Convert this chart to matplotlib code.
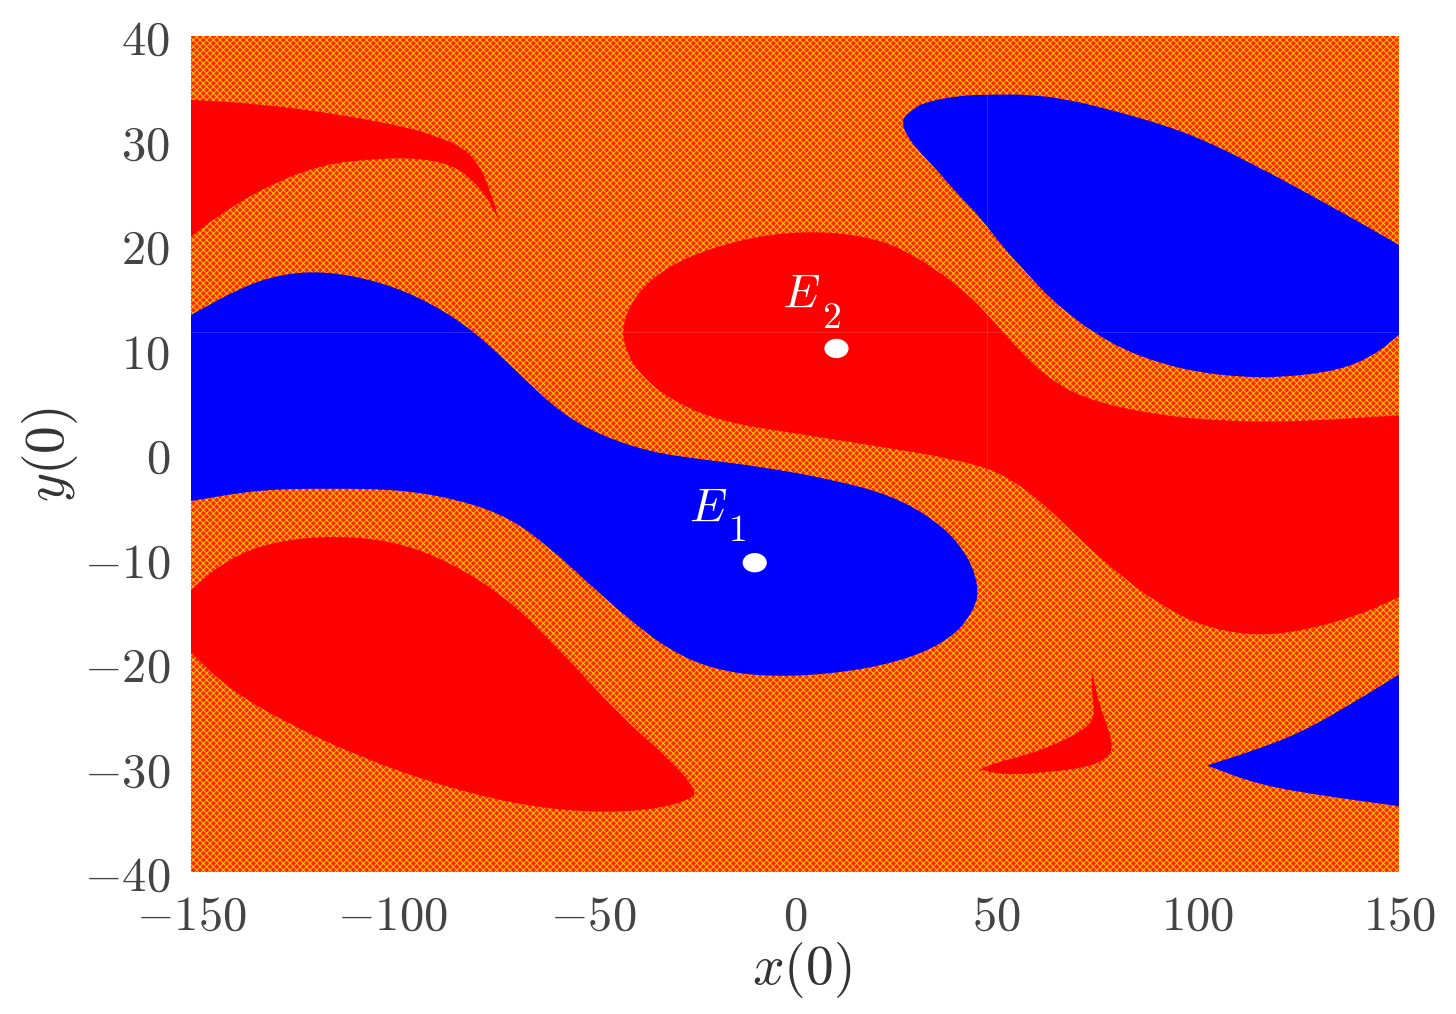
import matplotlib
matplotlib.use("Agg")
import matplotlib.pyplot as plt
from matplotlib.patches import Ellipse, PathPatch, Rectangle
from matplotlib.path import Path

plt.rcParams["mathtext.fontset"] = "cm"
plt.rcParams["hatch.linewidth"] = 0.7

# equilibria
eq_x = [-10, 10.3]
eq_y = [-10.4, 10.1]

x_ticks = [-150, -100, -50, 0, 50, 100, 150]
y_ticks = [-40, -30, -20, -10, 0, 10, 20, 30, 40]

# basin outlines, repeated points are sharp corners
blue_mid = [(-150, 13.3), (-150, 13.3), (-137.8, 15.9), (-127.9, 17.2), (-116.7, 17.5),
            (-103, 16.5), (-90.6, 14.5), (-79.5, 11.7), (-68.3, 7.6), (-58.4, 4.0),
            (-48.4, 1.8), (-36, 0.2), (-23.6, -0.5), (-8.7, -1.2), (8.7, -2.4),
            (23.6, -3.9), (34.8, -6.3), (42.2, -9.2), (45.7, -12.5), (44.7, -14.9),
            (38.5, -17.8), (26.1, -19.9), (8.7, -21.1), (-8.7, -21.3), (-21.1, -20.5),
            (-31, -18.8), (-41, -15.9), (-50.9, -12.5), (-60.8, -9), (-70.8, -6.1),
            (-83.2, -4.4), (-98.1, -3.4), (-115.5, -3.3), (-132.9, -3.4),
            (-150, -4.5), (-150, -4.5)]

red_mid = [(-43, 12.3), (-39.7, 15.2), (-32.3, 17.8), (-21.1, 19.7), (-6.2, 21.1),
           (8.7, 21.3), (21.1, 20.5), (28.5, 19.2), (35.2, 17.6), (42.7, 15.4),
           (48.4, 13.1), (54.1, 10.6), (60.1, 8.2), (66, 6.5), (72, 5.4), (80, 4.5),
           (90, 3.8), (100.5, 3.3), (120.4, 3),
           (150, 3.7), (150, 3.7), (150, -13.7), (150, -13.7), (140.3, -15.4),
           (125.4, -17), (113, -17.4), (100.6, -16.4), (90.6, -14.4), (80.7, -11.6),
           (70.8, -8.2), (60.8, -4.4), (50.9, -1.7), (38.5, -0.4), (21.1, 0.7),
           (1.2, 1.9), (-18.6, 3.1), (-31, 5.2), (-38.5, 7.6), (-42.2, 10)]

blue_top = [(26.1, 32), (29.8, 33.1), (31.8, 33.6), (40.2, 34.3), (49.2, 34.4), (58.3, 34.4),
            (68.3, 33.9), (80.7, 32.7), (91.4, 31.5), (100.6, 30.2), (113, 27.9),
            (132.8, 23.8), (150, 20), (150, 20),
            (150, 11.4), (150, 11.4), (144, 9.5), (135.3, 8), (120.4, 7.3), (110, 7.4),
            (100.6, 7.8), (91.4, 8.6), (81.4, 10), (74, 11.7), (70, 12.8), (63.3, 14.9),
            (57.6, 17.3), (51.6, 19.8), (45.9, 22.7), (41, 24.6), (35.2, 27.2), (28.5, 29.9)]

red_top = [(-150, 33.9), (-150, 33.9), (-132.9, 33.5), (-113, 32.5), (-95.6, 31.2),
           (-89.9, 30.5), (-82.5, 29.4), (-78.2, 27.5), (-75.8, 25.3), (-73.3, 22.2),
           (-73.3, 22.2), (-76.5, 24.6), (-80.7, 26.5), (-85.7, 27.7), (-93.1, 28.3),
           (-103, 28.3), (-118, 27.7),
           (-132.9, 25.3), (-144, 22.6), (-150, 20.8), (-150, 20.8)]

red_bottom = [(-150, -13), (-150, -13), (-142.8, -10.6), (-132.9, -8.7), (-118, -7.8),
              (-100.6, -8.2), (-85.7, -10.3), (-70.8, -14), (-58.4, -18.8), (-43.5, -25),
              (-31, -29.3), (-24.3, -32.2), (-26, -33.1), (-36, -34.1), (-50.9, -34.3),
              (-68.3, -33.6), (-88.2, -31.7), (-108, -29), (-125.4, -25.9),
              (-140.3, -22.6), (-150, -19), (-150, -19)]

red_small = [(73.7, -20.7), (73.7, -20.7), (75.7, -24.2), (77.7, -26.1), (79, -28.1),
             (77.5, -29.1), (72.5, -30), (61.6, -30.5), (51.6, -30.7), (45.9, -30.2),
             (45.9, -30.2), (49.2, -29.6), (57.6, -28.8), (65.8, -27.6), (72.5, -26.2),
             (74.5, -25), (73.7, -22.9)]

blue_corner = [(102.3, -29.8), (102.3, -29.8), (113, -28.5), (125.4, -26.7), (137.8, -24),
               (150, -21.1), (150, -21.1), (150, -33.7), (150, -33.7), (132.8, -32.8),
               (115.5, -31.7)]


def basin(points, color):
    """Closed smooth patch through the midpoints of the outline."""
    mids = [((points[i][0] + points[(i + 1) % len(points)][0]) / 2,
             (points[i][1] + points[(i + 1) % len(points)][1]) / 2)
            for i in range(len(points))]
    verts = [mids[-1]]
    codes = [Path.MOVETO]
    for p, m in zip(points, mids):
        verts += [p, m]
        codes += [Path.CURVE3, Path.CURVE3]
    return PathPatch(Path(verts, codes), facecolor=color, edgecolor="none", zorder=3)


fig = plt.figure(figsize=(14.56, 10.14), dpi=100)
ax = fig.add_axes([191 / 1456, 1 - 872 / 1014, 1208 / 1456, 836 / 1014])
ax.set_xlim(-150, 150)
ax.set_ylim(-40, 40)

# speckled background of the unbounded orbits, as a hatch texture
ax.add_patch(Rectangle((0, 0), 1, 1, transform=ax.transAxes, facecolor="#ff2800",
                       edgecolor="#ffc800", hatch="xxxxx", linewidth=0, zorder=1))

for outline, color in [(blue_mid, "#0000ff"), (blue_top, "#0000ff"), (blue_corner, "#0000ff"),
                       (red_mid, "#ff0000"), (red_top, "#ff0000"), (red_bottom, "#ff0000"),
                       (red_small, "#ff0000")]:
    ax.add_patch(basin(outline, color))

# faint seams in the original image
ax.axhline(11.7, color="white", lw=0.7, alpha=0.15, zorder=4)
ax.axvline(47.6, color="white", lw=0.7, alpha=0.15, zorder=4)

for ex, ey in zip(eq_x, eq_y):
    ax.add_patch(Ellipse((ex, ey), 6.0, 1.85, facecolor="white", edgecolor="none", zorder=5))

# E labels
ax.text(-21.5, -5.2, r"$E$", color="white", fontsize=34, ha="center", va="center", zorder=6)
ax.text(-14.5, -7.4, r"$\mathrm{1}$", color="white", fontsize=27, ha="center", va="center", zorder=6)
ax.text(1.5, 15.3, r"$E$", color="white", fontsize=34, ha="center", va="center", zorder=6)
ax.text(9, 13, r"$\mathrm{2}$", color="white", fontsize=27, ha="center", va="center", zorder=6)

for side in ax.spines.values():
    side.set_visible(False)

ax.set_xticks(x_ticks)
ax.set_yticks(y_ticks)
ax.set_xticklabels([r"$%d$" % v for v in x_ticks])
ax.set_yticklabels([r"$%d$" % v for v in y_ticks])
ax.tick_params(axis="x", length=0, pad=14, labelsize=35, labelcolor="#444444")
ax.tick_params(axis="y", length=0, pad=15, labelsize=35, labelcolor="#444444")

fig.text(802 / 1456, 1 - 970 / 1014, r"$x(0)$", fontsize=40, color="#333333",
         ha="center", va="center")
fig.text(50 / 1456, 1 - 455 / 1014, r"$y(0)$", fontsize=40, color="#333333",
         rotation=90, ha="center", va="center")

fig.savefig("out.png", dpi=100)
